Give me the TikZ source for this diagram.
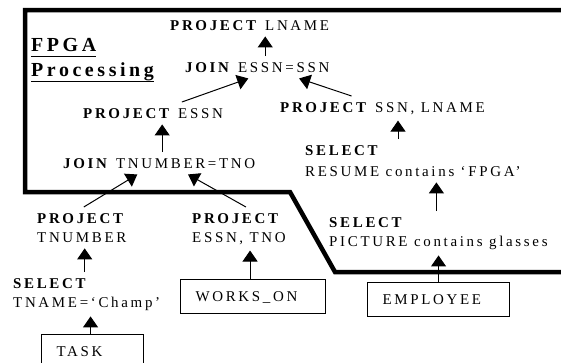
\documentclass[tikz,border=0pt]{standalone}
\usepackage{fontspec}
\setmainfont{Liberation Serif}[LetterSpace=18]
\usetikzlibrary{arrows.meta}
\newcommand{\optext}{\fontsize{15}{19}\selectfont}
\newcommand{\titletext}{\fontsize{20}{25}\selectfont\bfseries}
\newcommand{\fatul}[1]{\setbox0=\hbox{#1}\rlap{\rule[-6bp]{\wd0}{1.8bp}}\box0}

\begin{document}
\begin{tikzpicture}[x=1bp,y=-1bp,
		op/.style={font=\optext,inner sep=6bp,anchor=north west,align=left},
		rel/.style={draw,line width=1.1bp,font=\optext,inner xsep=15bp,inner ysep=12bp,text height=10bp,text depth=0bp,align=left,anchor=north west},
		arr/.style={-{Triangle[width=15bp,length=11bp]},line width=1bp}]
		\useasboundingbox (0,0) rectangle (561,362);
		\clip (0,0) rectangle (561,362);
		\draw[line width=4.5bp] (565,10) -- (25,10) -- (25,192) -- (290,192) -- (335,272) -- (565,272);
		\node (pl) at (164,14) [op] {\textbf{PROJECT} LNAME};
		\node (jn2) at (179,56) [op] {\textbf{JOIN} ESSN=SSN};
		\node (fpga) at (25,32) [op,font=\titletext] {\fatul{FPGA}\\\fatul{Processing}};
		\node (pe) at (77,102) [op] {\textbf{PROJECT} ESSN};
		\node (ps) at (274,96) [op] {\textbf{PROJECT} SSN, LNAME};
		\node (sr) at (299,139) [op] {\textbf{SELECT}\\[2bp]RESUME contains ‘FPGA’};
		\node (jn1) at (57,152) [op] {\textbf{JOIN} TNUMBER=TNO};
		\node (pt) at (31,207) [op] {\textbf{PROJECT}\\TNUMBER};
		\node (pw) at (186,207) [op] {\textbf{PROJECT}\\ESSN, TNO};
		\node (sp) at (323,211) [op] {\textbf{SELECT}\\PICTURE contains glasses};
		\node (stn) at (7,272) [op] {\textbf{SELECT}\\TNAME=‘Champ’};
		\node (task) at (41,334) [rel,text width=72bp] {TASK};
		\node (works) at (180,279) [rel,text width=115bp] {WORKS\_ON};
		\node (emp) at (367,282) [rel,text width=112bp] {EMPLOYEE};
		\draw[arr] ([xshift=8]jn2.north) -- ([xshift=8]jn2.north |- pl.south);
		\draw[arr] ([xshift=29]pe.north) -- ([xshift=-9]jn2.south);
		\draw[arr] ([xshift=-31]ps.north) -- ([xshift=42]jn2.south);
		\draw[arr] ([xshift=3]jn1.north) -- ([xshift=3]jn1.north |- pe.south);
		\draw[arr] ([xshift=-15]sr.north) -- ([xshift=-15]sr.north |- ps.south);
		\draw[arr] ([xshift=-2]sp.north) -- ([xshift=-2]sp.north |- sr.south);
		\draw[arr] (emp.north) -- (emp.north |- sp.south);
		\draw[arr] ([xshift=2]pt.north) -- ([xshift=-22]jn1.south);
		\draw[arr] ([xshift=7]pw.north) -- ([xshift=29]jn1.south);
		\draw[arr] ([xshift=-2]stn.north) -- ([xshift=-2]stn.north |- pt.south);
		\draw[arr] ([xshift=-2]task.north) -- ([xshift=-2]task.north |- stn.south);
		\draw[arr] ([xshift=-3]works.north) -- ([xshift=-3]works.north |- pw.south);
\end{tikzpicture}
\end{document}
